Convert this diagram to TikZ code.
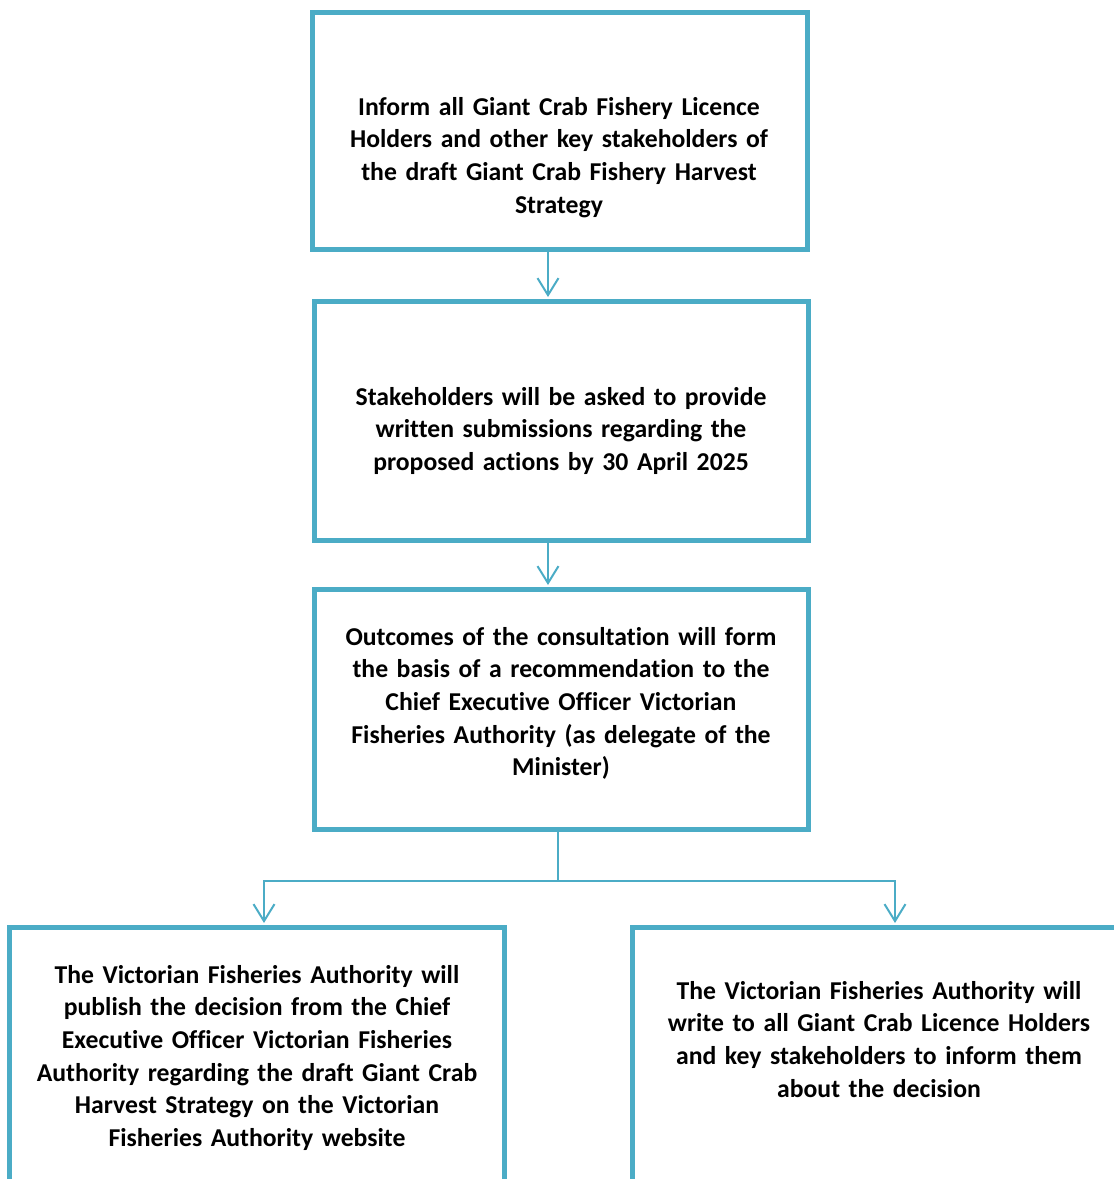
\documentclass[tikz,border=0pt]{standalone}
\usepackage{fontspec}
\setmainfont{Carlito}[Ligatures=NoCommon]
\usetikzlibrary{arrows.meta}
\definecolor{vfa}{RGB}{75,172,198}
\tikzset{
  box/.style={draw=vfa, line width=5pt, rectangle, inner sep=0pt, minimum width=495pt},
  txt/.style={text width=520pt, align=center, inner sep=0pt, anchor=base,
    font=\fontsize{25.7pt}{32.7pt}\selectfont\bfseries},
  arr/.style={draw=vfa, line width=2pt, -{Straight Barb[length=17pt,width=21pt,line width=2pt]}, shorten >=2pt},
  conn/.style={draw=vfa, line width=2pt}
}
\begin{document}
\begin{tikzpicture}[x=1pt,y=-1pt]
\useasboundingbox (0,0) rectangle (1114,1179);
\clip (0,0) rectangle (1114,1179);
\node[box, minimum height=237pt] (b1) at (560,131) {};
\node[box, minimum height=239pt, minimum width=494pt] (b2) at (561.5,421) {};
\node[box, minimum height=240pt, minimum width=494pt] (b3) at (561.5,709.5) {};
\node[box, minimum height=300pt] (b4) at (257,1077.5) {};
\node[box, minimum height=300pt] (b5) at (880,1077.5) {};

\node[txt] (t1) at (559,115) {Inform all Giant Crab Fishery Licence\\Holders and other key stakeholders of\\the draft Giant Crab Fishery Harvest\\Strategy};
\node[txt] (t2) at (561,405) {Stakeholders will be asked to provide\\written submissions regarding the\\proposed actions by 30 April 2025};
\node[txt] (t3) at (561,645) {Outcomes of the consultation will form\\the basis of a recommendation to the\\Chief Executive Officer Victorian\\Fisheries Authority (as delegate of the\\Minister)};
\node[txt] (t4) at (257,983) {The Victorian Fisheries Authority will\\publish the decision from the Chief\\Executive Officer Victorian Fisheries\\Authority regarding the draft Giant Crab\\Harvest Strategy on the Victorian\\Fisheries Authority website};
\node[txt] (t5) at (879,999) {The Victorian Fisheries Authority will\\write to all Giant Crab Licence Holders\\and key stakeholders to inform them\\about the decision};

\draw[arr] ([xshift=-12pt]b1.south) -- ([xshift=-12pt]b1.south |- b2.north);
\draw[arr] ([xshift=-13.5pt]b2.south) -- ([xshift=-13.5pt]b2.south |- b3.north);
\coordinate (j) at (558,881);
\draw[conn] (b3.south -| j) -- (j);
\draw[arr] (j) -| ([xshift=7pt]b4.north);
\draw[arr] (j) -| ([xshift=15pt]b5.north);
\end{tikzpicture}
\end{document}
